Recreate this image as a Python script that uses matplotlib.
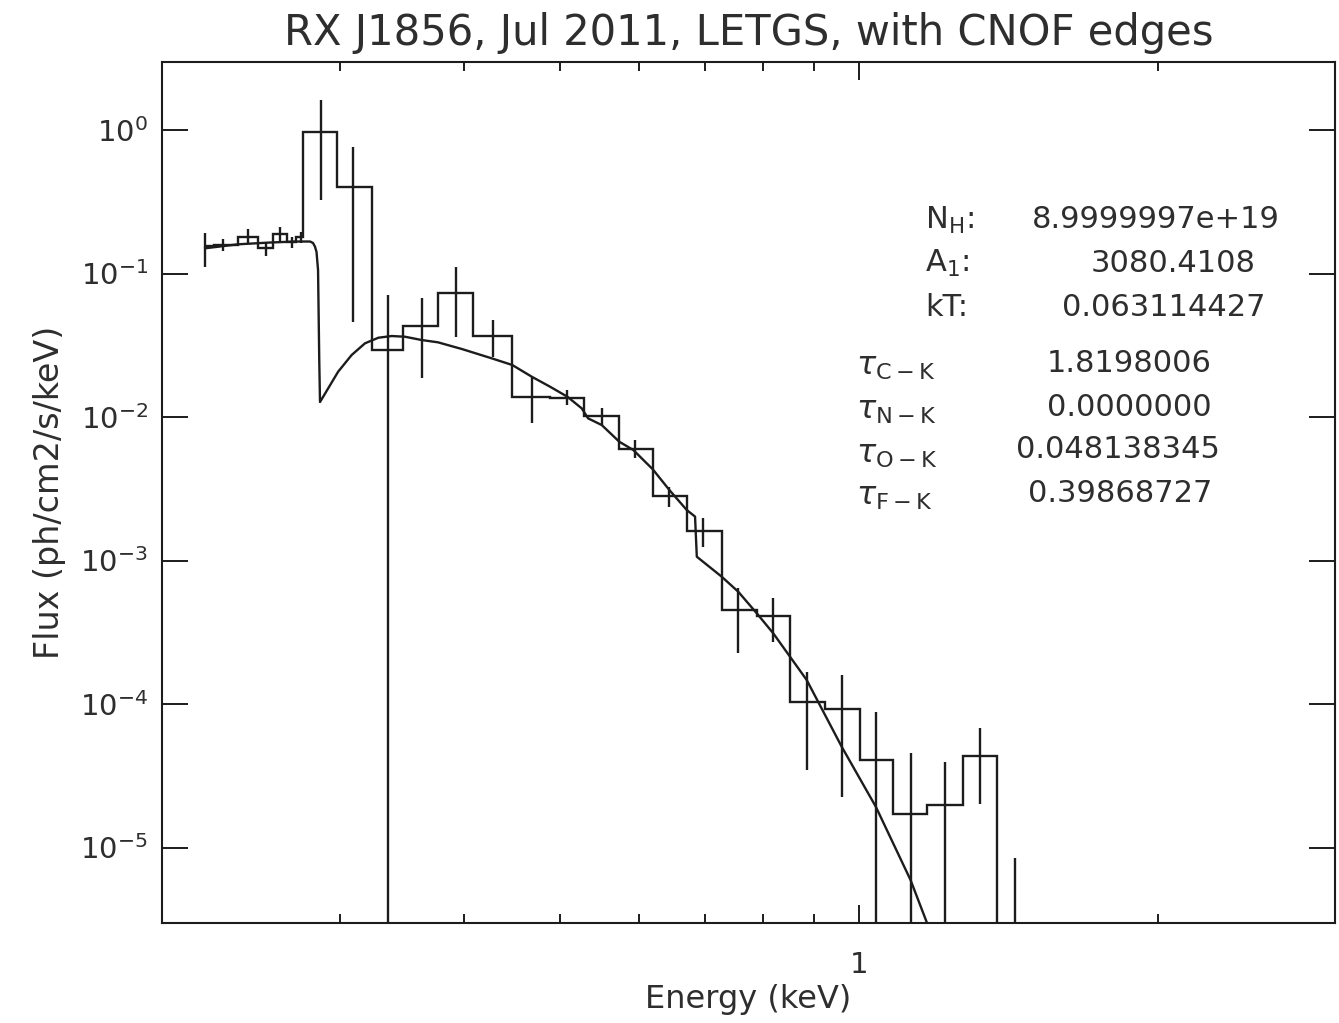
import matplotlib
matplotlib.use("Agg")
import matplotlib.pyplot as plt
from matplotlib.ticker import FixedLocator, FixedFormatter, NullLocator, NullFormatter, LogFormatterSciNotation

# ---- data ----
bin_edges = [0.2195, 0.2241, 0.2369, 0.2481, 0.2570, 0.2655, 0.2710, 0.2755,
             0.2980, 0.3232, 0.3473, 0.3767, 0.4086, 0.4472, 0.4885, 0.5285,
             0.5731, 0.6203, 0.6711, 0.7278, 0.7895, 0.8522, 0.9242, 1.0023,
             1.082, 1.171, 1.273, 1.377, 1.494]
bin_flux = [0.155, 0.158, 0.181, 0.150, 0.188, 0.167, 0.181, 0.968,
            0.401, 0.0293, 0.0431, 0.0728, 0.0367, 0.01385, 0.0136, 0.01016,
            0.00598, 0.00281, 0.00160, 4.52e-4, 4.10e-4, 1.03e-4, 9.18e-5, 4.07e-5,
            1.71e-5, 1.98e-5, 4.36e-5, 1e-8]

err_energy = [0.2195, 0.2288, 0.2425, 0.2527, 0.2611, 0.2685, 0.2742, 0.2872,
              0.3094, 0.3354, 0.3629, 0.3928, 0.4279, 0.4685, 0.5081, 0.5510,
              0.5949, 0.6437, 0.6965, 0.7553, 0.8190, 0.8862, 0.9613, 1.040,
              1.128, 1.221, 1.324, 1.436]
err_low = [0.1115, 0.144, 0.1605, 0.1324, 0.1667, 0.1499, 0.1626, 0.3252,
           0.0459, 1e-8, 0.0187, 0.0363, 0.0263, 0.00904, 0.01213, 0.00880,
           0.00518, 0.00236, 0.00124, 2.27e-4, 2.70e-4, 3.47e-5, 2.26e-5, 1e-8,
           1e-8, 1e-8, 2.01e-5, 1e-8]
err_high = [0.1906, 0.175, 0.203, 0.1667, 0.212, 0.1806, 0.1956, 1.618,
            0.761, 0.0708, 0.0675, 0.1115, 0.0474, 0.0191, 0.01543, 0.01155,
            0.00691, 0.00325, 0.00198, 6.43e-4, 5.48e-4, 1.68e-4, 1.59e-4, 8.83e-5,
            4.56e-5, 3.96e-5, 6.78e-5, 8.41e-6]

model_energy = [0.2195, 0.2369, 0.2551, 0.2704, 0.2800, 0.2819, 0.2832, 0.2842,
                0.2852, 0.2860, 0.2865, 0.2920, 0.2988, 0.3083, 0.3180, 0.3280,
                0.3383, 0.3489, 0.3627, 0.3767, 0.3981, 0.4266, 0.4475, 0.4682,
                0.4885, 0.5085, 0.5257, 0.5335, 0.5507, 0.5735, 0.5925, 0.6199,
                0.6442, 0.6707, 0.6837, 0.6865, 0.7274, 0.7558, 0.7889, 0.8197,
                0.8858, 0.9607, 1.040, 1.127, 1.172, 1.193]
model_flux = [0.1499, 0.1598, 0.1644, 0.1671, 0.1671, 0.1632, 0.1537, 0.1412,
              0.1057, 0.02496, 0.01272, 0.01585, 0.02069, 0.02704, 0.03263, 0.03569,
              0.03668, 0.03627, 0.03440, 0.03315, 0.02978, 0.02565, 0.02304, 0.01909,
              0.01626, 0.01385, 0.01149, 0.00979, 0.00879, 0.00673, 0.00589, 0.00432,
              0.00310, 0.002248, 0.002025, 0.001063, 7.71e-4, 6.06e-4, 4.29e-4, 3.11e-4,
              1.47e-4, 5.04e-5, 1.92e-5, 5.94e-6, 2.93e-6, 1.93e-6]

x_major_ticks = [1.0]
x_major_labels = ["1"]
x_minor_ticks = [0.3, 0.4, 0.5, 0.6, 0.7, 0.8, 0.9, 2.0]
y_major_ticks = [1e-5, 1e-4, 1e-3, 1e-2, 1e-1, 1e0]

fit_labels = ["N$_{\\rm H}$:", "A$_{1}$:", "kT:"]
fit_values = ["8.9999997e+19", "3080.4108", "0.063114427"]
tau_labels = ["$\\tau_{\\rm C-K}$", "$\\tau_{\\rm N-K}$", "$\\tau_{\\rm O-K}$", "$\\tau_{\\rm F-K}$"]
tau_values = ["1.8198006", "0.0000000", "0.048138345", "0.39868727"]

title = "RX J1856, Jul 2011, LETGS, with CNOF edges"
xlabel = "Energy (keV)"
ylabel = "Flux (ph/cm2/s/keV)"

# ---- figure ----
W, H = 1339, 1023
plt.rcParams["font.family"] = ["DejaVu Sans"]
plt.rcParams["mathtext.fontset"] = "dejavusans"
ink = "#1c1c1c"
txt = "#2e2e2e"

fig = plt.figure(figsize=(W / 100, H / 100), dpi=100)
L, R, T, B = 162, 1335, 62, 923
ax = fig.add_axes([L / W, 1 - B / H, (R - L) / W, (B - T) / H])
ax.set_xscale("log")
ax.set_yscale("log")
ax.set_xlim(0.1986, 3.016)
ax.set_ylim(2.98e-6, 2.978)

ax.stairs(bin_flux, bin_edges, baseline=None, color=ink, lw=1.7)
ax.vlines(err_energy, err_low, err_high, color=ink, lw=1.7)
ax.plot(model_energy, model_flux, color=ink, lw=1.7)

for s in ax.spines.values():
    s.set_linewidth(1.5)
    s.set_color(ink)

ax.xaxis.set_major_locator(FixedLocator(x_major_ticks))
ax.xaxis.set_major_formatter(FixedFormatter(x_major_labels))
ax.xaxis.set_minor_locator(FixedLocator(x_minor_ticks))
ax.xaxis.set_minor_formatter(NullFormatter())
ax.yaxis.set_major_locator(FixedLocator(y_major_ticks))
ax.yaxis.set_major_formatter(LogFormatterSciNotation())
ax.yaxis.set_minor_locator(NullLocator())

ax.tick_params(which="both", direction="in", top=True, right=True, color=ink, labelcolor=txt, width=1.4)
ax.tick_params(axis="x", which="major", length=13, pad=20, labelsize=21)
ax.tick_params(axis="x", which="minor", length=6.5)
ax.tick_params(axis="y", which="major", length=19, pad=10, labelsize=21)

ax.set_title(title, fontsize=30, color=txt, pad=12)
ax.set_xlabel(xlabel, fontsize=23, color=txt, labelpad=4)
ax.set_ylabel(ylabel, fontsize=24, color=txt, labelpad=10)

fs = 22
for i, (lab, val) in enumerate(zip(fit_labels, fit_values)):
    y = [220, 263, 307][i]
    fig.text(925 / W, 1 - y / H, lab, fontsize=fs, color=txt, ha="left", va="center")
    fig.text([1280, 1256, 1266][i] / W, 1 - y / H, val, fontsize=fs, color=txt, ha="right", va="center")
for i, (lab, val) in enumerate(zip(tau_labels, tau_values)):
    y = [363, 407, 450, 493][i]
    fig.text(856 / W, 1 - (y + 4) / H, lab, fontsize=fs + 1, color=txt, ha="left", va="center")
    fig.text([1212, 1212, 1220, 1212][i] / W, 1 - y / H, val, fontsize=fs, color=txt, ha="right", va="center")

fig.savefig("out.png", dpi=100, facecolor="white")
